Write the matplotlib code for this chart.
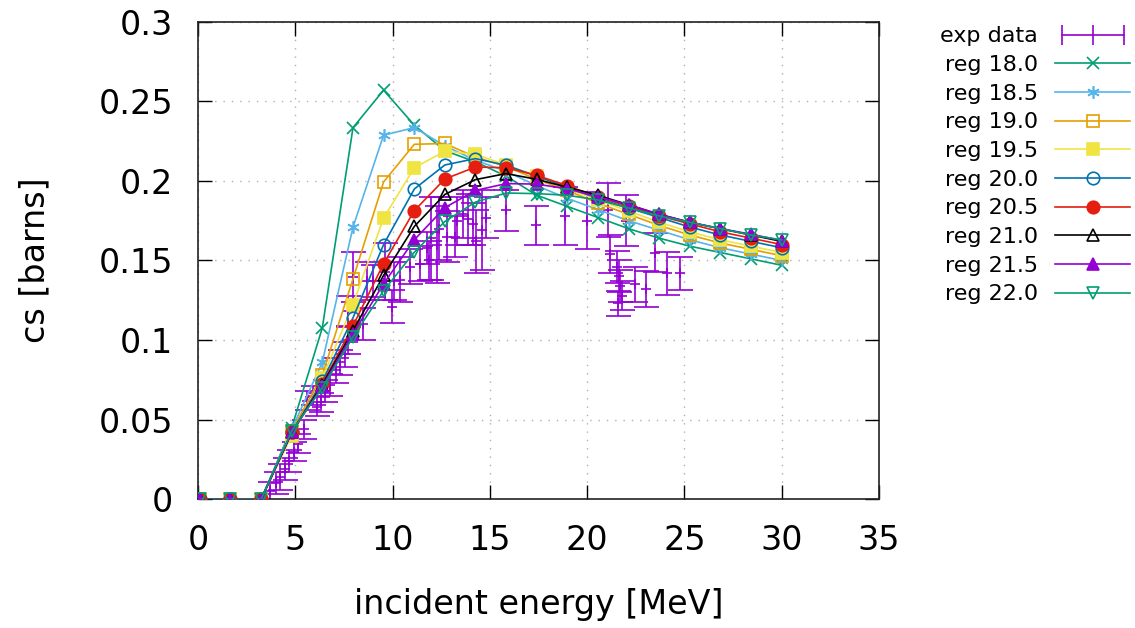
import numpy as np
import matplotlib
matplotlib.use("Agg")
import matplotlib.pyplot as plt
from matplotlib.lines import Line2D
from matplotlib.legend_handler import HandlerLine2D

# --- model energies (MeV) -------------------------------------------------
energy = [0.1, 1.67, 3.25, 4.82, 6.39, 7.97, 9.54, 11.12, 12.69, 14.26,
          15.84, 17.41, 18.98, 20.56, 22.13, 23.71, 25.28, 26.85, 28.43, 30.0]

reg_labels = ["reg 18.0", "reg 18.5", "reg 19.0", "reg 19.5", "reg 20.0",
              "reg 20.5", "reg 21.0", "reg 21.5", "reg 22.0"]

reg_18_0 = [0, 0, 0, 0.045, 0.1076, 0.2335, 0.257, 0.235, 0.219, 0.212,
            0.203, 0.191, 0.184, 0.177, 0.170, 0.164, 0.159, 0.155, 0.151, 0.147]
reg_18_5 = [0, 0, 0, 0.044, 0.086, 0.171, 0.2287, 0.2335, 0.222, 0.213,
            0.206, 0.197, 0.189, 0.182, 0.175, 0.169, 0.163, 0.158, 0.154, 0.150]
reg_19_0 = [0, 0, 0, 0.043, 0.078, 0.1385, 0.1993, 0.223, 0.2235, 0.215,
            0.209, 0.201, 0.194, 0.186, 0.179, 0.172, 0.166, 0.161, 0.157, 0.153]
reg_19_5 = [0, 0, 0, 0.040, 0.076, 0.1223, 0.1766, 0.2083, 0.2186, 0.2167,
            0.210, 0.203, 0.195, 0.188, 0.181, 0.174, 0.168, 0.163, 0.159, 0.155]
reg_20_0 = [0, 0, 0, 0.042, 0.074, 0.114, 0.160, 0.1949, 0.210, 0.214,
            0.2098, 0.203, 0.196, 0.189, 0.183, 0.177, 0.171, 0.166, 0.162, 0.158]
reg_20_5 = [0, 0, 0, 0.042, 0.0724, 0.109, 0.148, 0.1813, 0.2012, 0.2087,
            0.2083, 0.2035, 0.197, 0.190, 0.184, 0.178, 0.173, 0.168, 0.164, 0.160]
reg_21_0 = [0, 0, 0, 0.042, 0.072, 0.106, 0.1406, 0.1714, 0.1915, 0.2008,
            0.2046, 0.201, 0.196, 0.191, 0.185, 0.179, 0.174, 0.170, 0.166, 0.162]
reg_21_5 = [0, 0, 0, 0.042, 0.071, 0.104, 0.1353, 0.163, 0.1832, 0.194,
            0.1983, 0.198, 0.195, 0.190, 0.185, 0.179, 0.174, 0.170, 0.1665, 0.1625]
reg_22_0 = [0, 0, 0, 0.043, 0.070, 0.102, 0.131, 0.1552, 0.1745, 0.1867,
            0.1924, 0.192, 0.191, 0.188, 0.183, 0.178, 0.174, 0.170, 0.166, 0.163]

# --- experimental data ------------------------------------------------------
exp_e = [3.7, 4.0, 4.2, 4.45, 4.7, 4.95, 5.15, 5.45, 5.6, 5.9,
         6.1, 6.3, 6.55, 6.8, 7.1, 7.3, 7.55, 7.7, 7.7, 7.98,
         8.5, 8.7, 9.0, 9.6, 9.95, 10.1, 10.4, 10.9, 11.4, 11.75,
         11.9, 12.0, 12.3, 12.4, 12.8, 13.2, 13.3, 13.63, 13.9, 14.15,
         14.3, 14.6, 14.83, 15.85, 17.4, 18.86, 20.0, 21.1, 22.0, 21.2,
         21.55, 21.65, 21.7, 21.8, 21.6, 22.45, 23.05, 23.5, 24.1, 24.8]
exp_cs = [0.005, 0.010, 0.014, 0.019, 0.024, 0.030, 0.035, 0.044, 0.062, 0.065,
          0.058, 0.061, 0.068, 0.072, 0.081, 0.086, 0.091, 0.100, 0.118, 0.1395,
          0.110, 0.137, 0.137, 0.143, 0.121, 0.137, 0.138, 0.146, 0.148, 0.158,
          0.150, 0.164, 0.160, 0.170, 0.165, 0.165, 0.175, 0.179, 0.176, 0.173,
          0.162, 0.169, 0.177, 0.1815, 0.172, 0.178, 0.175, 0.1815, 0.175, 0.154,
          0.146, 0.140, 0.134, 0.128, 0.123, 0.135, 0.132, 0.155, 0.142, 0.142]
exp_err = [0.006, 0.007, 0.008, 0.007, 0.007, 0.006, 0.006, 0.006, 0.006, 0.006,
           0.006, 0.006, 0.007, 0.007, 0.008, 0.008, 0.008, 0.009, 0.010, 0.0157,
           0.010, 0.012, 0.010, 0.018, 0.0105, 0.012, 0.014, 0.011, 0.011, 0.010,
           0.012, 0.026, 0.024, 0.020, 0.016, 0.013, 0.015, 0.015, 0.016, 0.013,
           0.020, 0.025, 0.013, 0.013, 0.012, 0.018, 0.018, 0.017, 0.016, 0.012,
           0.010, 0.010, 0.010, 0.009, 0.008, 0.011, 0.0115, 0.012, 0.0135, 0.0105]

# gnuplot default line colours / point types
PURPLE = "#9400D3"
STYLES = [("#009E73", "x", "full"), ("#56B4E9", (6, 2, 0), "full"),
          ("#E69F00", "s", "none"), ("#F0E442", "s", "full"),
          ("#0072B2", "o", "none"), ("#E51E10", "o", "full"),
          ("#000000", "^", "none"), (PURPLE, "^", "full"),
          ("#009E73", "v", "none")]

plt.rcParams["font.family"] = "DejaVu Sans"

fig = plt.figure(figsize=(11.35, 6.28), dpi=100)
ax = fig.add_axes([0.1744, 0.2050, 0.6000, 0.7604])

ax.errorbar(exp_e, exp_cs, yerr=exp_err, fmt="+", color=PURPLE, ms=7,
            mew=1.2, elinewidth=1.2, capsize=9, capthick=1.2, zorder=2)

handles = [Line2D([0, 0.5, 1], [0, 0, 0], color=PURPLE, lw=1.2, marker="|",
                  ms=14, mew=1.2, label="exp data")]
series = [reg_18_0, reg_18_5, reg_19_0, reg_19_5, reg_20_0, reg_20_5,
          reg_21_0, reg_21_5, reg_22_0]
for vals, lab, (c, m, fill) in zip(series, reg_labels, STYLES):
    ms = 9 if m != "x" else 8
    h, = ax.plot(energy, vals, color=c, lw=1.2, marker=m, ms=ms, mew=1.2,
                 fillstyle=fill, label=lab, zorder=3)
    handles.append(h)

ax.set_xlim(0, 35)
ax.set_ylim(0, 0.3)
ax.set_xticks([0, 5, 10, 15, 20, 25, 30, 35])
ax.set_yticks([0, 0.05, 0.1, 0.15, 0.2, 0.25, 0.3])
ax.set_yticklabels(["0", "0.05", "0.1", "0.15", "0.2", "0.25", "0.3"])
ax.tick_params(direction="in", length=10, width=1, labelsize=24,
               top=True, right=True, pad=18)
ax.grid(True, color="#b0b0b0", lw=1, ls=(0, (1, 5)))
for s in ax.spines.values():
    s.set_linewidth(1.2)
    s.set_color("#222222")

ax.set_xlabel("incident energy [MeV]", fontsize=24, labelpad=22)
ax.set_ylabel("cs [barns]", fontsize=24, labelpad=34)

hmap = {handles[0]: HandlerLine2D(numpoints=3)}
leg = fig.legend(handles=handles, loc="upper left",
                 bbox_to_anchor=(0.811, 0.99), frameon=False, fontsize=16,
                 markerfirst=False, handlelength=3.4, labelspacing=0.39,
                 handletextpad=0.75, numpoints=1, handler_map=hmap)

fig.savefig("out.png", dpi=100)
